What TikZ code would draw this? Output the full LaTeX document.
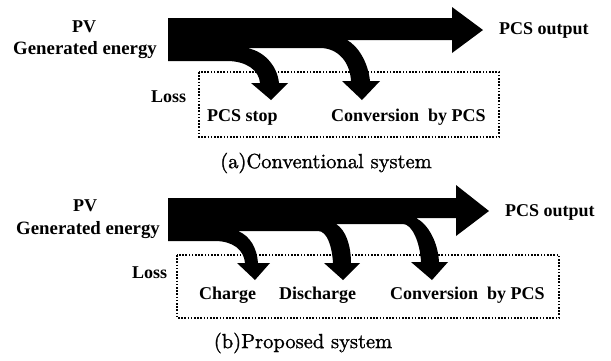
\documentclass[tikz,border=0pt]{standalone}
\usepackage{fontspec}
\newfontfamily\tnr{Liberation Serif}
\newfontfamily\capfont{lmroman10-regular.otf}[FakeBold=1.2]
\tikzset{
  lbl/.style={inner sep=0pt, font=\tnr\bfseries\fontsize{18}{20}\selectfont},
  biglbl/.style={inner sep=0pt, font=\tnr\bfseries\fontsize{18.8}{20}\selectfont},
  captxt/.style={inner sep=0pt, font=\capfont\fontsize{20.5}{22}\selectfont},
  lossbox/.style={line width=1.6pt, dash pattern=on 1.6pt off 1.6pt},
  flow/.style={fill=black}
}
\begin{document}
\begin{tikzpicture}[x=1pt,y=-1pt]
\useasboundingbox[fill=white] (0,0) rectangle (611,360);

% ---------- (a) Conventional system ----------
\draw[lossbox] (199,72) rectangle (499,137);
\fill[flow] (168,18) -- (452,18) -- (452,7) -- (483,30) -- (452,53) -- (452,40) -- (347,40)
  .. controls (358,46) and (368,62) .. (370,81) -- (380,81) -- (362,100) -- (342,81) -- (351,81)
  .. controls (350,62) and (338,48) .. (320,48) -- (246,48)
  .. controls (262,50) and (277,64) .. (279,83) -- (288,83) -- (271,100) -- (251,83) -- (260,83)
  .. controls (259,70) and (246,61) .. (227,61) -- (168,61) -- cycle;

\node[lbl] (pva) at (84,27) {PV};
\node[biglbl, anchor=east] (gena) at (157,50) {Generated energy};
\node[lbl, anchor=west] (outa) at (499,30) {PCS output};
\node[lbl, anchor=west] (lossa) at (151,97) {Loss};
\node[lbl, anchor=west] (stopa) at (207,117) {PCS stop};
\node[lbl, anchor=west] (conva) at (331,117) {Conversion\ \ by PCS};
\node[captxt] (capa) at (326,163) {(a)Conventional system};

% ---------- (b) Proposed system ----------
\draw[lossbox] (177,255) rectangle (559,318);
\fill[flow] (168,198) -- (456,198) -- (456,185) -- (489,211) -- (456,236) -- (456,218) -- (416,218)
  .. controls (428,224) and (438,242) .. (439,262) -- (448,262) -- (432,280) -- (411,262) -- (421,262)
  .. controls (420,242) and (412,224) .. (403,224) -- (336,224)
  .. controls (346,230) and (351,246) .. (351,263) -- (360,263) -- (343,280) -- (324,263) -- (333,263)
  .. controls (332,246) and (327,231) .. (318,231) -- (238,231)
  .. controls (250,236) and (257,248) .. (258,263) -- (270,263) -- (255,280) -- (237,263) -- (245,263)
  .. controls (244,250) and (233,241) .. (215,241) -- (168,241) -- cycle;

\node[lbl] (pvb) at (85,206) {PV};
\node[biglbl, anchor=east] (genb) at (160,230) {Generated energy};
\node[lbl, anchor=west] (outb) at (505,212) {PCS output};
\node[lbl, anchor=west] (lossb) at (132,273) {Loss};
\node[lbl, anchor=west] (chg) at (199,295) {Charge};
\node[lbl, anchor=west] (dchg) at (279,295) {Discharge};
\node[lbl, anchor=west] (convb) at (390,295) {Conversion\ \ by PCS};
\node[captxt] (capb) at (303,343) {(b)Proposed system};
\end{tikzpicture}
\end{document}
